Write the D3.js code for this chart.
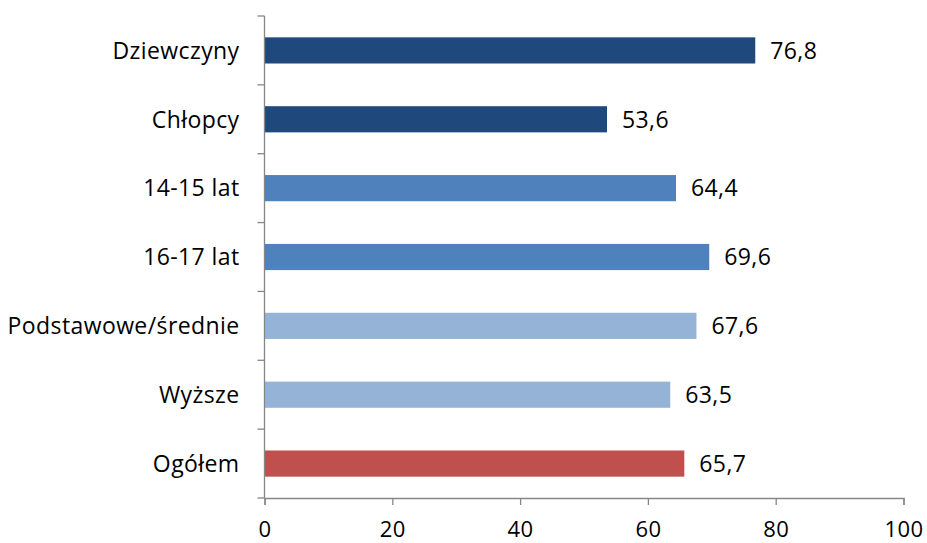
<!DOCTYPE html>
<html>
<head>
<meta charset="utf-8">
<script src="https://cdn.jsdelivr.net/npm/d3@7"></script>
<style>
  html, body { margin: 0; padding: 0; background: #fff; }
  svg text { font-family: "Open Sans", Lato, sans-serif; fill: #000; letter-spacing: 0.4px; }
</style>
</head>
<body>
<svg id="chart" width="927" height="543"></svg>
<script>
const categories = ["Dziewczyny", "Chłopcy", "14-15 lat", "16-17 lat", "Podstawowe/średnie", "Wyższe", "Ogółem"];
const values = [76.8, 53.6, 64.4, 69.6, 67.6, 63.5, 65.7];
const barColors = ["#1F497D", "#1F497D", "#4F81BD", "#4F81BD", "#95B3D7", "#95B3D7", "#C0504D"];
const xTicks = [0, 20, 40, 60, 80, 100];

const svg = d3.select("#chart");
const margin = { left: 264.5, right: 23.5, top: 16, bottom: 45 };
const W = 927, H = 543;
const fontSize = 23;

const x = d3.scaleLinear().domain([0, 100]).range([margin.left, W - margin.right]);
const y = d3.scaleBand().domain(categories).range([margin.top, H - margin.bottom]).paddingInner(0.62).paddingOuter(0.31);

const axisColor = "#868686";
const fmt = v => v.toFixed(1).replace(".", ",");

// bars
svg.append("g").selectAll("rect").data(values).join("rect")
  .attr("x", x(0))
  .attr("y", (d, i) => y(categories[i]))
  .attr("width", d => x(d) - x(0))
  .attr("height", y.bandwidth())
  .attr("fill", (d, i) => barColors[i]);

// value labels
svg.append("g").selectAll("text").data(values).join("text")
  .attr("x", d => x(d) + 15)
  .attr("y", (d, i) => y(categories[i]) + y.bandwidth() / 2)
  .attr("dy", "0.36em")
  .attr("font-size", fontSize)
  .text(d => fmt(d));

// x axis
const xAxis = svg.append("g")
  .attr("transform", `translate(0,${H - margin.bottom})`)
  .call(d3.axisBottom(x).tickValues(xTicks).tickSize(7).tickPadding(16).tickFormat(d => d));
xAxis.select(".domain").attr("stroke", axisColor).attr("stroke-width", 1.3);
xAxis.selectAll(".tick line").attr("stroke", axisColor).attr("stroke-width", 1.3);
xAxis.selectAll(".tick text").attr("font-size", 22).attr("font-family", "'Open Sans', sans-serif").attr("fill", "#000");

// y axis: ticks sit at band boundaries
const step = y.step();
const boundaries = d3.range(categories.length + 1).map(i => margin.top + i * step);
const yAxisG = svg.append("g");
yAxisG.append("line")
  .attr("x1", x(0)).attr("x2", x(0))
  .attr("y1", margin.top).attr("y2", H - margin.bottom)
  .attr("stroke", axisColor).attr("stroke-width", 1.3);
yAxisG.selectAll("line.tick").data(boundaries).join("line")
  .attr("class", "tick")
  .attr("x1", x(0) - 7).attr("x2", x(0))
  .attr("y1", d => d).attr("y2", d => d)
  .attr("stroke", axisColor).attr("stroke-width", 1.3);

// category labels
yAxisG.selectAll("text").data(categories).join("text")
  .attr("x", x(0) - 25)
  .attr("y", d => y(d) + y.bandwidth() / 2)
  .attr("dy", "0.36em")
  .attr("text-anchor", "end")
  .attr("font-size", fontSize)
  .text(d => d);
</script>
</body>
</html>
